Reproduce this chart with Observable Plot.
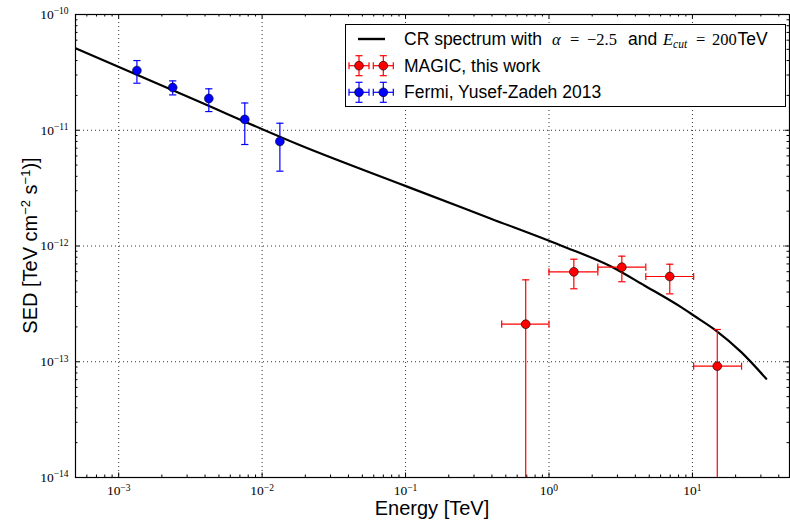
<!DOCTYPE html>
<html>
<head>
<meta charset="utf-8">
<script src="https://cdn.jsdelivr.net/npm/d3@7"></script>
<script src="https://cdn.jsdelivr.net/npm/@observablehq/plot@0.6"></script>
<style>
  body { margin: 0; background: #fff; }
  #wrap { position: relative; width: 790px; height: 521px; overflow: hidden; }
  #wrap > svg:first-child { position: absolute; left: 0; top: 0; }
</style>
</head>
<body>
<div id="wrap"></div>
<script>
// ---------- data ----------
// Fermi (Yusef-Zadeh 2013)
const fermiE  = [1.34e-3, 2.38e-3, 4.25e-3, 7.57e-3, 1.33e-2];
const fermiF  = [3.28e-11, 2.34e-11, 1.88e-11, 1.24e-11, 8.0e-12];
const fermiLo = [2.55e-11, 2.02e-11, 1.45e-11, 7.53e-12, 4.43e-12];
const fermiHi = [4.0e-11, 2.67e-11, 2.28e-11, 1.72e-11, 1.15e-11];

// MAGIC, this work
const magicE   = [0.688, 1.49, 3.22, 6.95, 14.9];
const magicElo = [0.468, 1.0, 2.19, 4.73, 10.2];
const magicEhi = [1.0, 2.19, 4.73, 10.2, 22.0];
const magicF   = [2.11e-13, 5.98e-13, 6.56e-13, 5.45e-13, 9.16e-14];
const magicLo  = [1e-16, 4.27e-13, 4.91e-13, 3.86e-13, 1e-16];   // 1e-16: bar runs to the bottom of the axes
const magicHi  = [5.1e-13, 7.69e-13, 8.17e-13, 6.96e-13, 1.90e-13];

// CR spectrum curve
const curveE = [5e-4, 3.18e-3, 0.0186, 0.1005, 0.394, 1.21, 2.71, 4.62, 8.34, 10.2, 14.6, 21.9, 32.7];
const curveF = [5.12e-11, 1.90e-11, 7.38e-12, 3.29e-12, 1.72e-12, 1.01e-12, 6.65e-13, 4.56e-13, 2.96e-13, 2.51e-13, 1.86e-13, 1.21e-13, 7.13e-14];

// ticks
const xMajor = [1e-3, 1e-2, 1e-1, 1, 10];
const xMajorLabels = ["10^−3", "10^−2", "10^−1", "10^0", "10^1"];
const yMajor = [1e-14, 1e-13, 1e-12, 1e-11, 1e-10];
const yMajorLabels = ["10^−14", "10^−13", "10^−12", "10^−11", "10^−10"];
const xGridVals = [1e-3, 1e-2, 1e-1, 1, 10];
const yGridVals = [1e-13, 1e-12, 1e-11];
const minorMultipliers = [2, 3, 4, 5, 6, 7, 8, 9];

const seriesNames = ["CR spectrum", "MAGIC, this work", "Fermi, Yusef-Zadeh 2013"];
const seriesColors = ["#000000", "#ff0000", "#0000ff"];

// ---------- tables ----------
const fermi = fermiE.map((e, i) => ({e, f: fermiF[i], lo: fermiLo[i], hi: fermiHi[i]}));
const magic = magicE.map((e, i) => ({e, elo: magicElo[i], ehi: magicEhi[i], f: magicF[i], lo: magicLo[i], hi: magicHi[i]}));
const curve = curveE.map((e, i) => ({e, f: curveF[i]}));

const xDomain = [5e-4, 47.5];
const yDomain = [1e-14, 1e-10];
const xMinor = [];
for (let n = -4; n <= 1; n++) for (const k of minorMultipliers) {
  const v = k * Math.pow(10, n);
  if (v > xDomain[0] && v < xDomain[1]) xMinor.push(v);
}
const yMinor = [];
for (let n = -14; n <= -11; n++) for (const k of minorMultipliers) yMinor.push(k * Math.pow(10, n));

// ---------- layout ----------
const W = 790, H = 521, mL = 75, mT = 14, mR = 1, mB = 44;
const pH = H - mT - mB, pW = W - mL - mR;
const majorLen = 4.5, minorLen = 2.5;

const hcap = {draw(ctx, size) { const w = Math.sqrt(size / Math.PI); ctx.moveTo(-w, 0); ctx.lineTo(w, 0); }};
const vcap = {draw(ctx, size) { const w = Math.sqrt(size / Math.PI); ctx.moveTo(0, -w); ctx.lineTo(0, w); }};

const xLabelOf = new Map(xMajor.map((v, i) => [v, xMajorLabels[i]]));
const yLabelOf = new Map(yMajor.map((v, i) => [v, yMajorLabels[i]]));

const tickFont = "'Liberation Serif', 'DejaVu Serif', serif";
const chart = Plot.plot({
  width: W, height: H,
  marginLeft: mL, marginTop: mT, marginRight: mR, marginBottom: mB,
  style: {background: "#fff", fontFamily: "'Liberation Sans', Arial, sans-serif"},
  x: {type: "log", domain: xDomain},
  y: {type: "log", domain: yDomain},
  marks: [
    Plot.gridX(xGridVals, {stroke: "#000", strokeOpacity: 0.8, strokeDasharray: "1,3", strokeWidth: 1}),
    Plot.gridY(yGridVals, {stroke: "#000", strokeOpacity: 0.8, strokeDasharray: "1,3", strokeWidth: 1}),
    // inward ticks on all four sides
    Plot.tickX(xMinor, {x: d => d, insetTop: pH - minorLen, stroke: "#000"}),
    Plot.tickX(xMinor, {x: d => d, insetBottom: pH - minorLen, stroke: "#000"}),
    Plot.tickX(xMajor, {x: d => d, insetTop: pH - majorLen, stroke: "#000"}),
    Plot.tickX(xMajor, {x: d => d, insetBottom: pH - majorLen, stroke: "#000"}),
    Plot.tickY(yMinor, {y: d => d, insetRight: pW - minorLen, stroke: "#000"}),
    Plot.tickY(yMinor, {y: d => d, insetLeft: pW - minorLen, stroke: "#000"}),
    Plot.tickY(yMajor, {y: d => d, insetRight: pW - majorLen, stroke: "#000"}),
    Plot.tickY(yMajor, {y: d => d, insetLeft: pW - majorLen, stroke: "#000"}),
    Plot.axisX(xMajor, {tickSize: 0, tickPadding: 8, label: null, tickFormat: d => xLabelOf.get(d),
      fontFamily: tickFont, fontSize: 13.5, fill: "#000"}),
    Plot.axisY(yMajor, {tickSize: 0, tickPadding: 7, label: null, tickFormat: d => yLabelOf.get(d),
      fontFamily: tickFont, fontSize: 13.5, fill: "#000"}),
    // CR spectrum curve
    Plot.line(curve, {x: "e", y: "f", stroke: seriesColors[0], strokeWidth: 2.2, curve: "monotone-x", clip: true}),
    // Fermi error bars
    Plot.ruleX(fermi, {x: "e", y1: "lo", y2: "hi", stroke: seriesColors[2], strokeWidth: 1.2}),
    Plot.dot(fermi, {x: "e", y: "hi", symbol: hcap, r: 3.6, fill: "none", stroke: seriesColors[2], strokeWidth: 1.2}),
    Plot.dot(fermi, {x: "e", y: "lo", symbol: hcap, r: 3.6, fill: "none", stroke: seriesColors[2], strokeWidth: 1.2}),
    // MAGIC error bars
    Plot.ruleX(magic, {x: "e", y1: "lo", y2: "hi", stroke: seriesColors[1], strokeWidth: 1.2, clip: true}),
    Plot.ruleY(magic, {y: "f", x1: "elo", x2: "ehi", stroke: seriesColors[1], strokeWidth: 1.2}),
    Plot.dot(magic, {x: "e", y: "hi", symbol: hcap, r: 3.6, fill: "none", stroke: seriesColors[1], strokeWidth: 1.2}),
    Plot.dot(magic.filter(d => d.lo >= yDomain[0]), {x: "e", y: "lo", symbol: hcap, r: 3.6, fill: "none", stroke: seriesColors[1], strokeWidth: 1.2}),
    Plot.dot(magic, {x: "elo", y: "f", symbol: vcap, r: 3.6, fill: "none", stroke: seriesColors[1], strokeWidth: 1.2}),
    Plot.dot(magic, {x: "ehi", y: "f", symbol: vcap, r: 3.6, fill: "none", stroke: seriesColors[1], strokeWidth: 1.2}),
    // markers
    Plot.dot(fermi, {x: "e", y: "f", r: 4.4, fill: seriesColors[2], stroke: "#000", strokeWidth: 0.6}),
    Plot.dot(magic, {x: "e", y: "f", r: 4.4, fill: seriesColors[1], stroke: "#000", strokeWidth: 0.6}),
    Plot.frame({stroke: "#000", strokeWidth: 1.2})
  ]
});

// superscript exponents in tick labels
d3.select(chart).selectAll('g[aria-label$="tick label"] text').each(function () {
  const t = this.textContent;
  const m = t.match(/^10\^(.*)$/);
  if (!m) return;
  this.textContent = "";
  const s = d3.select(this);
  s.append("tspan").text("10");
  s.append("tspan").attr("dy", "-4.5").style("font-size", "9.5px").text(m[1]);
});

// axis labels
const svg = d3.select(chart);
svg.append("text")
  .attr("x", mL + pW / 2).attr("y", 515)
  .attr("text-anchor", "middle")
  .style("font-family", "'Liberation Sans', Arial, sans-serif").style("font-size", "20px").attr("fill", "#000")
  .text("Energy [TeV]");
const yl = svg.append("text")
  .attr("transform", `translate(37,${mT + pH / 2}) rotate(-90)`)
  .attr("text-anchor", "middle")
  .style("font-family", "'Liberation Sans', Arial, sans-serif").style("font-size", "20px").attr("fill", "#000");
yl.append("tspan").text("SED [TeV cm");
yl.append("tspan").attr("dy", "-7").style("font-size", "13px").text("−2");
yl.append("tspan").attr("dy", "7").text(" s");
yl.append("tspan").attr("dy", "-7").style("font-size", "13px").text("−1");
yl.append("tspan").attr("dy", "7").text(")]");

document.getElementById("wrap").appendChild(chart);

// ---------- legend ----------
const leg = d3.select("#wrap").append("svg")
  .attr("width", 443).attr("height", 85)
  .style("position", "absolute").style("left", "344px").style("top", "23px");
leg.append("rect").attr("x", 1.5).attr("y", 1.5).attr("width", 440).attr("height", 82)
  .attr("fill", "#fff").attr("stroke", "#000").attr("stroke-width", 1);

const rowY = [16, 42.7, 69.3];
const textX = 60;
const sans = "'Liberation Sans', Arial, sans-serif";
const serif = "'Liberation Serif', 'DejaVu Serif', serif";
const legFont = "17.5px", mathFont = "16.5px";

// row 1: line sample
leg.append("line").attr("x1", 14).attr("x2", 41).attr("y1", rowY[0]).attr("y2", rowY[0])
  .attr("stroke", seriesColors[0]).attr("stroke-width", 2.4);
const t1 = leg.append("text").attr("x", textX).attr("y", rowY[0] + 6)
  .style("font-family", sans).style("font-size", legFont).attr("fill", "#000");
t1.append("tspan").text("CR spectrum with");
t1.append("tspan").attr("x", 208).style("font-family", serif).style("font-style", "italic").style("font-size", mathFont).text("α");
t1.append("tspan").attr("x", 226).style("font-family", serif).style("font-size", mathFont).text("=");
t1.append("tspan").attr("x", 243).style("font-family", serif).style("font-size", mathFont).text("−2.5");
t1.append("tspan").attr("x", 284).text("and");
t1.append("tspan").attr("x", 319).style("font-family", serif).style("font-style", "italic").style("font-size", mathFont).text("E");
t1.append("tspan").attr("dy", "3").style("font-family", serif).style("font-style", "italic").style("font-size", "11.5px").text("cut");
t1.append("tspan").attr("x", 352).attr("dy", "-3").style("font-family", serif).style("font-size", mathFont).text("=");
t1.append("tspan").attr("x", 368).style("font-family", serif).style("font-size", mathFont).text("200");
t1.append("tspan").attr("x", 393.5).text("TeV");

// rows 2, 3: errorbar markers
[1, 2].forEach((si, r) => {
  const cy = rowY[r + 1];
  const c = seriesColors[si];
  [15, 39.3].forEach(cx => {
    const g = leg.append("g").attr("stroke", c).attr("stroke-width", 1.2).attr("fill", "none");
    g.append("line").attr("x1", cx - 10).attr("x2", cx + 10).attr("y1", cy).attr("y2", cy);
    g.append("line").attr("x1", cx).attr("x2", cx).attr("y1", cy - 10).attr("y2", cy + 10);
    g.append("line").attr("x1", cx - 10).attr("x2", cx - 10).attr("y1", cy - 3.5).attr("y2", cy + 3.5);
    g.append("line").attr("x1", cx + 10).attr("x2", cx + 10).attr("y1", cy - 3.5).attr("y2", cy + 3.5);
    g.append("line").attr("x1", cx - 3.5).attr("x2", cx + 3.5).attr("y1", cy - 10).attr("y2", cy - 10);
    g.append("line").attr("x1", cx - 3.5).attr("x2", cx + 3.5).attr("y1", cy + 10).attr("y2", cy + 10);
    leg.append("circle").attr("cx", cx).attr("cy", cy).attr("r", 4.4)
      .attr("fill", c).attr("stroke", "#000").attr("stroke-width", 0.6);
  });
  leg.append("text").attr("x", textX).attr("y", cy + 6)
    .style("font-family", sans).style("font-size", legFont).attr("fill", "#000")
    .text(seriesNames[si]);
});
</script>
</body>
</html>
